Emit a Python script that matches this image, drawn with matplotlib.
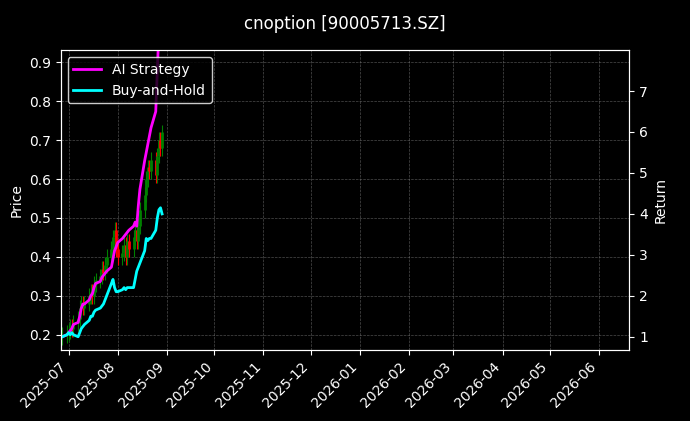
import matplotlib
matplotlib.use("Agg")
import matplotlib.pyplot as plt
import matplotlib.dates as mdates
import pandas as pd

dates = pd.bdate_range("2025-06-27", "2025-08-29")
close = [0.20,0.205,0.21,0.22,0.215,0.23,
         0.24,0.27,0.28,0.27,0.28,
         0.30,0.31,0.30,0.33,0.34,
         0.35,0.37,0.36,0.38,0.40,
         0.42,0.45,0.47,0.42,0.40,
         0.41,0.43,0.40,0.44,0.42,
         0.45,0.47,0.44,0.48,0.52,
         0.56,0.60,0.63,0.62,0.65,
         0.61,0.66,0.70,0.68,0.72]
opens = [0.195] + close[:-1]
highs = [max(o, c) + 0.02 for o, c in zip(opens, close)]
lows = [min(o, c) - 0.02 for o, c in zip(opens, close)]
ai_ret = [1.0,1.05,1.1,1.15,1.2,1.3,
          1.35,1.5,1.7,1.8,1.8,
          1.9,2.0,2.05,2.2,2.3,
          2.35,2.45,2.5,2.55,2.6,
          2.7,2.9,3.1,3.2,3.3,
          3.4,3.45,3.5,3.55,3.6,
          3.7,3.8,3.7,4.2,4.6,
          5.3,5.5,5.7,5.9,6.1,
          6.5,7.5,8.5,9.0,9.5]
bh_ret = [1.0,1.05,1.1,1.05,1.1,1.05,
          1.0,1.1,1.2,1.25,1.3,
          1.4,1.5,1.5,1.6,1.65,
          1.7,1.75,1.8,1.9,2.0,
          2.3,2.4,2.2,2.1,2.1,
          2.15,2.2,2.15,2.2,2.2,
          2.2,2.4,2.6,2.7,2.8,
          3.1,3.4,3.35,3.4,3.4,
          3.6,3.9,4.1,4.15,4.0]

plt.style.use("dark_background")
fig = plt.figure(figsize=(6.9, 4.21), dpi=100, facecolor="black")
ax = fig.add_axes([0.088, 0.169, 0.824, 0.712])
ax.set_facecolor("black")
ax2 = ax.twinx()

for d, o, h, l, c in zip(dates, opens, highs, lows, close):
    col = "green" if c >= o else "red"
    ax.vlines(d, l, h, color=col, linewidth=0.8)
    ax.vlines(d, min(o, c), max(o, c), color=col, linewidth=2.0)

ax2.plot(dates, ai_ret, color="magenta", linewidth=2, label="AI Strategy")
ax2.plot(dates, bh_ret, color="cyan", linewidth=2, label="Buy-and-Hold")

ax.set_xlim(pd.Timestamp("2025-06-26"), pd.Timestamp("2026-06-20"))
ax.set_ylim(0.1615, 0.931)
ax2.set_ylim(0.68, 8.0)
ax.set_yticks([0.2,0.3,0.4,0.5,0.6,0.7,0.8,0.9])
ax2.set_yticks([1,2,3,4,5,6,7])
ax.xaxis.set_major_locator(mdates.MonthLocator())
ax.xaxis.set_major_formatter(mdates.DateFormatter("%Y-%m"))
plt.setp(ax.get_xticklabels(), rotation=45, ha="right")
ax.grid(True, color="gray", linestyle="--", linewidth=0.5, alpha=0.6)
ax.set_ylabel("Price")
ax2.set_ylabel("Return")
ax2.legend(loc="upper left", facecolor="black", edgecolor="white")
fig.suptitle("cnoption [90005713.SZ]", y=0.965, fontsize=12)
fig.savefig("out.png", dpi=100, facecolor="black")
